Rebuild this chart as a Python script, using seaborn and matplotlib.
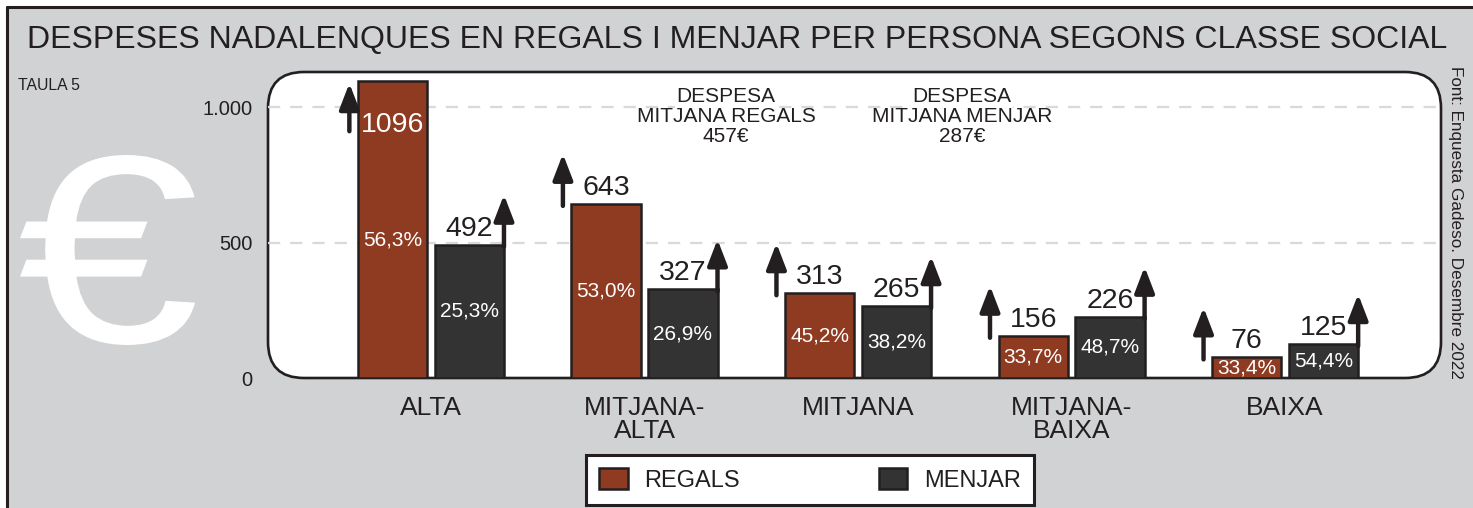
import numpy as np
import pandas as pd
import matplotlib
matplotlib.use("Agg")
import matplotlib.pyplot as plt
import seaborn as sns
from matplotlib.patches import FancyBboxPatch, Rectangle, Patch, PathPatch
from matplotlib.transforms import offset_copy, Affine2D
from matplotlib.textpath import TextPath
from matplotlib.font_manager import FontProperties

# data
classes = ["ALTA", "MITJANA-\nALTA", "MITJANA", "MITJANA-\nBAIXA", "BAIXA"]
regals = [1096, 643, 313, 156, 76]
menjar = [492, 327, 265, 226, 125]
regals_pct = ["56,3%", "53,0%", "45,2%", "33,7%", "33,4%"]
menjar_pct = ["25,3%", "26,9%", "38,2%", "48,7%", "54,4%"]
series = ["REGALS", "MENJAR"]
mitjana_regals = 457
mitjana_menjar = 287
yticks = [0, 500, 1000]
ytick_labels = ["0", "500", "1.000"]

brown = "#8f3b21"
dark = "#333333"
grey_bg = "#d1d2d4"
ink = "#231f20"

sns.set_theme(style="white")
plt.rcParams['font.family'] = ['Liberation Sans', 'DejaVu Sans']

W, H = 1473, 508
fig = plt.figure(figsize=(W / 100, H / 100), dpi=100)
fig.patch.set_facecolor("white")

def fx(x):
    return x / W

def fy(y):
    return 1 - y / H

# grey panel with black left/top border
fig.patches.append(Rectangle((fx(7), 0), 1 - fx(7), fy(7), transform=fig.transFigure,
                             facecolor=grey_bg, edgecolor="none", zorder=0))
fig.add_artist(plt.Line2D([fx(7), fx(7)], [0, fy(7)], color=ink, lw=2.2, transform=fig.transFigure))
fig.add_artist(plt.Line2D([fx(7), 1], [fy(7), fy(7)], color=ink, lw=2.2, transform=fig.transFigure))

# rounded white plot box (inches so corners stay round)
x0, x1, y0, y1 = 268, 1441, 72, 378
box = FancyBboxPatch((x0 / 100, (H - y1) / 100), (x1 - x0) / 100, (y1 - y0) / 100,
                     boxstyle="round,pad=0,rounding_size=0.36", transform=fig.dpi_scale_trans,
                     facecolor="white", edgecolor=ink, lw=1.9, zorder=1)
fig.patches.append(box)

# big euro sign, stretched to the box it fills in the original
euro = TextPath((0, 0), "€", size=100, prop=FontProperties(family="Liberation Sans"))
ext = euro.get_extents()
ex0, ex1, ey0, ey1 = 20, 195, 155, 345
sx = (ex1 - ex0) / 100 / ext.width
sy = (ey1 - ey0) / 100 / ext.height
tr = Affine2D().translate(-ext.x0, -ext.y0).scale(sx, sy).translate(ex0 / 100, (H - ey1) / 100)
fig.patches.append(PathPatch(tr.transform_path(euro), transform=fig.dpi_scale_trans,
                             facecolor="white", edgecolor="none", zorder=1))

fig.text(fx(18), fy(86), "TAULA 5", fontsize=11.3, color=ink, ha="left", va="center")
fig.text(fx(27), fy(40), "DESPESES NADALENQUES EN REGALS I MENJAR PER PERSONA SEGONS CLASSE SOCIAL",
         fontsize=23, color=ink, ha="left", va="center")
fig.text(fx(1456), fy(222), "Font: Enquesta Gadeso. Desembre 2022", fontsize=12.3, color=ink,
         rotation=-90, ha="center", va="center", zorder=3)

ax = fig.add_axes([fx(x0), fy(y1), fx(x1) - fx(x0), (y1 - y0) / H])
ax.set_facecolor("none")
ax.set_zorder(2)

df = pd.DataFrame({
    "classe": classes * 2,
    "euros": regals + menjar,
    "tipus": [series[0]] * len(classes) + [series[1]] * len(classes),
})

sns.barplot(data=df, x="classe", y="euros", hue="tipus", palette=[brown, dark], saturation=1,
            width=0.72, gap=0.1, edgecolor=ink, linewidth=1.8, legend=False, ax=ax)

ax.set_xlim(-0.763, 4.73)
ax.set_ylim(0, 1130)
ax.set_yticks(yticks)
ax.set_yticklabels(ytick_labels)
ax.grid(False)
for g in yticks[1:]:
    ax.axhline(g, color="#d9d9d9", lw=1.6, ls=(0, (5.5, 4.5)), zorder=0.5)
for s in ax.spines.values():
    s.set_visible(False)
ax.tick_params(axis="y", length=0, pad=11, labelsize=14.5, labelcolor=ink)
ax.tick_params(axis="x", length=0, pad=13, labelsize=19, labelcolor=ink)
for lab in ax.get_xticklabels():
    lab.set_multialignment("center")
    lab.set_linespacing(0.95)
ax.set_xlabel("")
ax.set_ylabel("")

arrow_style = dict(arrowstyle="-|>,head_length=0.78,head_width=0.3", mutation_scale=20,
                   lw=3.2, color=ink, shrinkA=0, shrinkB=0)

for k, (vals, pcts) in enumerate([(regals, regals_pct), (menjar, menjar_pct)]):
    for bar, v, p in zip(ax.containers[k], vals, pcts):
        cx = bar.get_x() + bar.get_width() / 2
        top = bar.get_height()
        ax_x = bar.get_x() - 0.04 if k == 0 else bar.get_x() + bar.get_width()
        pct_shift = 0
        if v > 1000:
            base, tip = -50, -2
            pct_shift = -10
            ax.annotate(str(v), xy=(cx, top), xytext=(0, -44), textcoords="offset pixels",
                        ha="center", va="center", color="white", fontsize=20.5, zorder=4)
        else:
            base, tip = -2, 50
            ax.annotate(str(v), xy=(cx, top), xytext=(0, 3), textcoords="offset pixels",
                        ha="center", va="bottom", color=ink, fontsize=20.5)
        t_base = offset_copy(ax.transData, fig=fig, x=0, y=base, units="dots")
        t_tip = offset_copy(ax.transData, fig=fig, x=0, y=tip, units="dots")
        ax.annotate("", xy=(ax_x, top), xycoords=t_tip, xytext=(ax_x, top), textcoords=t_base,
                    arrowprops=arrow_style)
        ax.annotate(p, xy=(cx, top / 2), xytext=(0, pct_shift), textcoords="offset pixels",
                    ha="center", va="center", color="white", fontsize=15)

# average notes: first line sits on the 1.000 grid line, with a white patch behind it
for cx_px, name, val in [(726, "REGALS", mitjana_regals), (962, "MENJAR", mitjana_menjar)]:
    fig.text(fx(cx_px), fy(97), "DESPESA", fontsize=15, color=ink, ha="center", va="center",
             zorder=3, bbox=dict(facecolor="white", edgecolor="none", pad=1))
    fig.text(fx(cx_px), fy(117), f"MITJANA {name}", fontsize=15, color=ink, ha="center",
             va="center", zorder=3)
    fig.text(fx(cx_px), fy(137), f"{val}€", fontsize=15, color=ink, ha="center", va="center",
             zorder=3)

handles = [Patch(facecolor=brown, edgecolor=ink, lw=1.8), Patch(facecolor=dark, edgecolor=ink, lw=1.8)]
leg = fig.legend(handles, series, loc="center", bbox_to_anchor=(fx(810), fy(480)), ncol=2,
                 fontsize=17, frameon=True, fancybox=False, edgecolor=ink, framealpha=1,
                 handlelength=1.2, handleheight=1.0, handletextpad=0.7, columnspacing=5.9,
                 borderpad=0.55, borderaxespad=0)
leg.get_frame().set_linewidth(2.2)
for t in leg.get_texts():
    t.set_color(ink)

fig.savefig("out.png", dpi=100)
